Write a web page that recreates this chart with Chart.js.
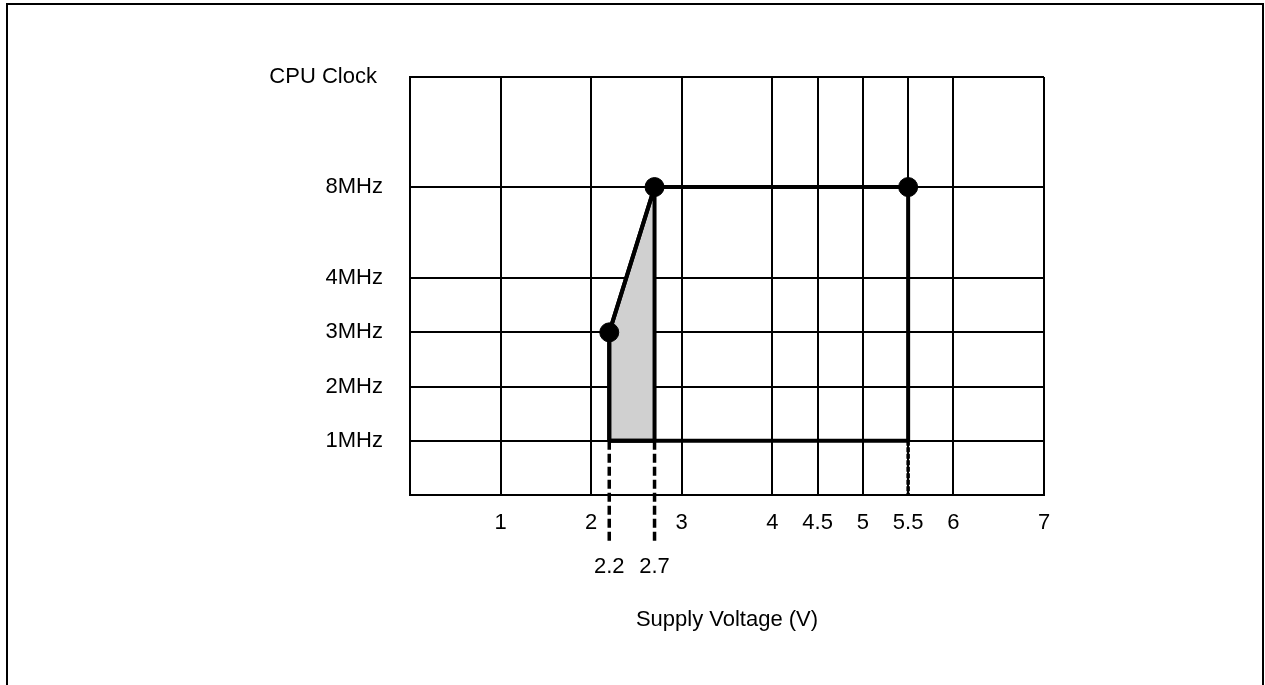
<!DOCTYPE html>
<html>
<head>
<meta charset="utf-8">
<title>CPU Clock vs Supply Voltage</title>
<script src="https://cdn.jsdelivr.net/npm/chart.js@4.4.0/dist/chart.umd.min.js"></script>
<style>
    html, body { margin: 0; padding: 0; background: #fff; overflow: hidden; }
    .frame {
        position: absolute; left: 6px; top: 3px;
        width: 1254px; height: 760px;
        border: 2px solid #000; border-bottom: none;
    }
    #clockChart { position: absolute; left: 0; top: 0; }
</style>
</head>
<body>
<div class="frame"></div>
<canvas id="clockChart" width="1265" height="685"></canvas>
<script>
// Voltage axis (V)
const voltageTicks = [0, 1, 2, 3, 4, 4.5, 5, 5.5, 6, 7];
const markerTicks = [2.2, 2.7];

// Clock axis - steps are not evenly spaced, so each label gets its own position
const clockValues = [1, 2, 3, 4, 8];
const clockLabels = ['1MHz', '2MHz', '3MHz', '4MHz', '8MHz'];
const clockPositions = [1, 2, 3, 4, 5.68];
const clockTop = 7.71;

// Operating area
const outlineVolts = [2.2, 2.2, 2.7, 5.5, 5.5, 2.2];
const outlineClock = [1, 3, 8, 8, 1, 1];
const shadeVolts = [2.2, 2.2, 2.7, 2.7, 2.2];
const shadeClock = [1, 3, 8, 1, 1];
const cornerVolts = [2.2, 2.7, 5.5];
const cornerClock = [3, 8, 8];

// Dashed leaders from 1MHz down (end given in clock-axis units, below the axis)
const leaderVolts = [2.2, 2.7, 5.5];
const leaderEnds = [-0.88, -0.88, 0];

const FONT = { family: "'Liberation Sans', Arial, sans-serif", size: 22 };

class ClockChart {
    constructor() {
        this.chart = null;
        this.init();
    }

    init() {
        Chart.defaults.color = '#000';
        this.render();
    }

    clockPos(mhz) {
        return clockPositions[clockValues.indexOf(mhz)];
    }

    points(xs, ys) {
        return xs.map((x, i) => ({ x, y: this.clockPos(ys[i]) }));
    }

    buildDatasets() {
        const leaders = leaderVolts.map((v, i) => ({
            label: `leader ${v}`,
            data: [{ x: v, y: this.clockPos(1) }, { x: v, y: leaderEnds[i] }],
            showLine: true,
            borderColor: '#000',
            borderWidth: 3.5,
            borderDash: v === 5.5 ? [5, 1.5] : [9, 4],
            pointRadius: 0,
            clip: false
        }));

        return [
            {
                label: 'corners',
                data: this.points(cornerVolts, cornerClock),
                pointRadius: 9.5,
                pointBorderWidth: 1,
                pointBackgroundColor: '#000',
                pointBorderColor: '#000',
                showLine: false
            },
            {
                label: 'outline',
                data: this.points(outlineVolts, outlineClock),
                showLine: true,
                borderColor: '#000',
                borderWidth: 4,
                borderJoinStyle: 'bevel',
                pointRadius: 0,
                fill: false
            },
            ...leaders,
            {
                label: 'shade',
                data: this.points(shadeVolts, shadeClock),
                showLine: true,
                borderColor: '#000',
                borderWidth: 4,
                borderJoinStyle: 'bevel',
                backgroundColor: '#d0d0d0',
                fill: 'shape',
                pointRadius: 0
            }
        ];
    }

    render() {
        const ctx = document.getElementById('clockChart').getContext('2d');

        if (this.chart) {
            this.chart.destroy();
        }

        this.chart = new Chart(ctx, {
            type: 'scatter',
            data: { datasets: this.buildDatasets() },
            options: {
                responsive: false,
                animation: false,
                events: [],
                layout: { padding: { top: 77, right: 221, bottom: 0, left: 0 } },
                plugins: {
                    legend: { display: false },
                    tooltip: { enabled: false }
                },
                scales: {
                    x: {
                        type: 'linear',
                        position: 'bottom',
                        min: 0,
                        max: 7,
                        weight: 0,
                        z: 1,
                        afterBuildTicks: s => { s.ticks = voltageTicks.map(value => ({ value })); },
                        afterFit: s => { s.height = 43; },
                        grid: { color: '#000', lineWidth: 2, drawTicks: false },
                        border: { color: '#000', width: 2 },
                        ticks: {
                            autoSkip: false,
                            maxRotation: 0,
                            padding: 15,
                            font: FONT,
                            callback: v => (v === 0 ? '' : String(v))
                        }
                    },
                    x2: {
                        type: 'linear',
                        position: 'bottom',
                        min: 0,
                        max: 7,
                        weight: 1,
                        afterBuildTicks: s => { s.ticks = markerTicks.map(value => ({ value })); },
                        afterFit: s => { s.height = 147; },
                        grid: { display: false, drawTicks: false },
                        border: { display: false },
                        ticks: {
                            autoSkip: false,
                            maxRotation: 0,
                            padding: 16,
                            font: FONT,
                            callback: v => String(v)
                        },
                        title: {
                            display: true,
                            text: 'Supply Voltage (V)',
                            font: FONT,
                            padding: { top: 0, bottom: 52 }
                        }
                    },
                    y: {
                        type: 'linear',
                        position: 'left',
                        min: 0,
                        max: clockTop,
                        z: 1,
                        afterBuildTicks: s => {
                            s.ticks = [0, ...clockPositions, clockTop].map(value => ({ value }));
                        },
                        afterFit: s => { s.width = 410; },
                        grid: { color: '#000', lineWidth: 2, drawTicks: false },
                        border: { color: '#000', width: 2 },
                        ticks: {
                            autoSkip: false,
                            padding: 27,
                            font: FONT,
                            callback: (v, i) => {
                                if (i === 0) return '';
                                if (i <= clockLabels.length) return clockLabels[i - 1];
                                return 'CPU Clock ';
                            }
                        }
                    }
                }
            }
        });
    }
}

// Initialize chart
document.addEventListener('DOMContentLoaded', () => {
    window.clockChart = new ClockChart();
});
</script>
</body>
</html>
